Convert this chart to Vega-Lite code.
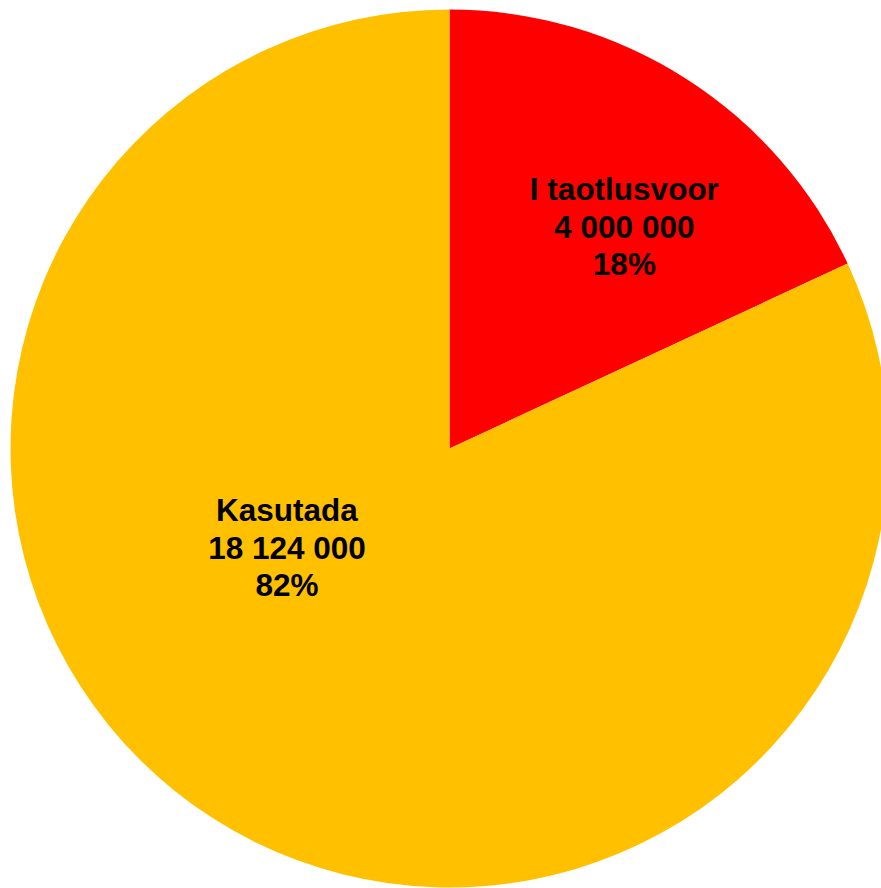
{
  "$schema": "https://vega.github.io/schema/vega-lite/v6.json",
  "width": 899,
  "height": 897,
  "autosize": {"type": "none"},
  "padding": 0,
  "background": "white",
  "config": {"view": {"stroke": null}},
  "data": {
    "values": [
      {"category": "I taotlusvoor", "value": 4000000},
      {"category": "Kasutada", "value": 18124000}
    ]
  },
  "transform": [
    {"joinaggregate": [{"op": "sum", "field": "value", "as": "total"}]},
    {"calculate": "[datum.category, join(split(format(datum.value, ','), ','), ' '), format(datum.value / datum.total, '.0%')]", "as": "label"}
  ],
  "encoding": {
    "theta": {"field": "value", "type": "quantitative", "stack": true},
    "order": {"field": "category", "type": "nominal"}
  },
  "layer": [
    {
      "mark": {"type": "arc", "outerRadius": 439},
      "encoding": {
        "color": {
          "field": "category",
          "type": "nominal",
          "scale": {"domain": ["I taotlusvoor", "Kasutada"], "range": ["#FF0000", "#FFC000"]},
          "legend": null
        }
      }
    },
    {
      "mark": {"type": "text", "radius": 260, "dx": 35, "dy": -38, "font": "Liberation Sans", "fontWeight": "bold", "fontSize": 31.5, "lineHeight": 37.5, "color": "black", "align": "center", "baseline": "middle"},
      "encoding": {
        "detail": {"field": "category", "type": "nominal"},
        "text": {"condition": {"test": "datum.category === 'I taotlusvoor'", "field": "label"}, "value": ""}
      }
    },
    {
      "mark": {"type": "text", "radius": 172, "dx": -70, "dy": -81, "font": "Liberation Sans", "fontWeight": "bold", "fontSize": 31.5, "lineHeight": 37.5, "color": "black", "align": "center", "baseline": "middle"},
      "encoding": {
        "detail": {"field": "category", "type": "nominal"},
        "text": {"condition": {"test": "datum.category === 'Kasutada'", "field": "label"}, "value": ""}
      }
    }
  ]
}
